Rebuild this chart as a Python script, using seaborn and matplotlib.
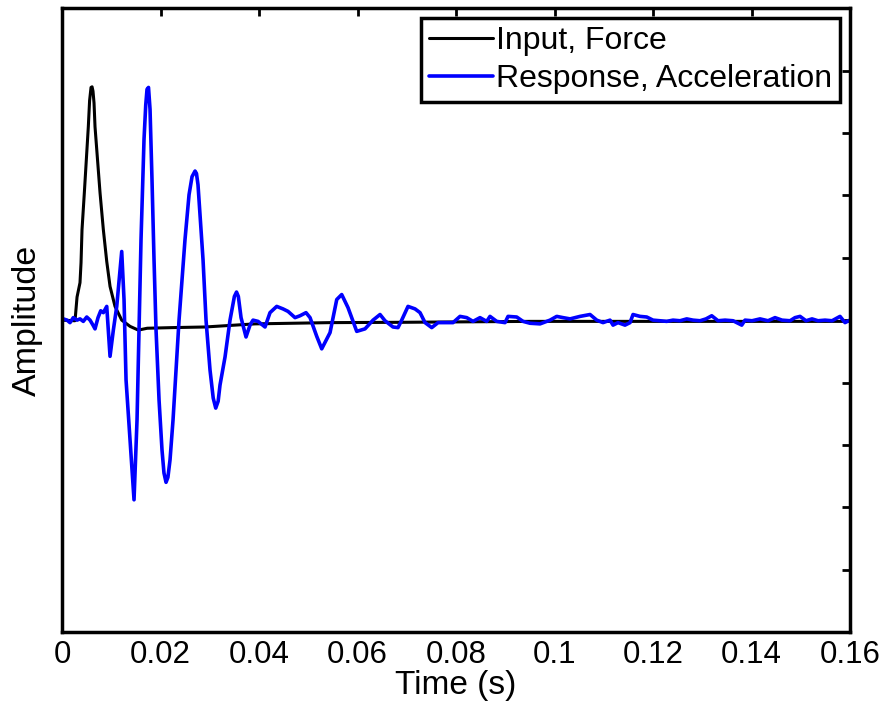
import numpy as np
import pandas as pd
import matplotlib
matplotlib.use("Agg")
import matplotlib.pyplot as plt
import seaborn as sns

# values (time in ms, amplitude in axis units)
force_t_ms = [0, 2.64, 3.05, 3.65, 3.86, 4.06, 4.53, 5.34, 5.6, 5.89, 6.1, 6.29, 6.5,
              6.70, 7.72, 8.39, 9.08, 9.75, 10.76, 12.12, 13.81, 15.49, 17.30, 22.34,
              29.04, 39.19, 54.42, 68.63, 95.03, 160.0]
force_amp = [0.0, -0.01, 0.37, 0.60, 0.92, 1.45, 2.04, 3.10, 3.52, 3.73, 3.74, 3.67, 3.48,
             3.10, 2.04, 1.45, 0.94, 0.54, 0.22, 0.0, -0.10, -0.16, -0.13, -0.12,
             -0.11, -0.06, -0.04, -0.035, -0.02, -0.02]

accel_t_ms = [0, 0.26, 1.02, 1.62, 2.29, 3.05, 3.65, 4.32, 5.02, 5.69, 6.29, 6.70,
              7.31, 7.86, 8.39, 9.08, 9.75, 10.42, 11.11, 12.12, 12.59, 13.0, 13.81,
              14.62, 15.23, 15.63, 16.04, 16.65, 17.0, 17.26, 17.56, 17.87, 18.27, 18.68,
              19.09, 19.70, 20.30, 20.7, 21.12, 21.5, 21.93, 22.54, 23.15, 23.76, 24.37,
              24.97, 25.79, 26.4, 27.01, 27.3, 27.61, 28.63, 29.24, 30.05, 30.7, 31.21,
              31.7, 32.08, 33.10, 34.11, 35.0, 35.43, 35.8, 36.35, 37.36, 38.17, 38.78,
              39.80, 41.22, 42.23, 43.59, 44.87, 45.89, 47.31, 48.32, 49.54, 50.36,
              51.72, 52.73, 54.42, 55.78, 56.79, 58.07, 59.84, 61.52, 63.15, 64.57,
              65.58, 67.21, 68.22, 68.97, 70.25, 71.68, 72.69, 73.71, 75.07, 76.35,
              77.77, 79.39, 80.81, 82.17, 83.45, 84.87, 86.23, 86.90, 88.26, 89.95,
              90.56, 92.32, 93.60, 95.03, 97.06, 99.09, 100.45, 101.73, 103.15, 105.18,
              107.21, 108.57, 109.85, 111.27, 111.88, 112.89, 114.31, 115.33, 115.94,
              117.36, 118.72, 120.0, 121.42, 122.78, 124.06, 125.48, 126.84, 128.12,
              129.54, 130.76, 131.92, 133.20, 134.62, 136.24, 138.01, 138.68, 140.10,
              141.73, 143.35, 144.77, 146.19, 147.82, 148.83, 149.85, 151.07, 152.28,
              153.50, 154.92, 156.35, 157.97, 158.98, 160.0]
accel_amp = [0.0, 0.02, 0.0, -0.04, 0.04, 0.0, 0.02, -0.02, 0.05, 0.0, -0.08, -0.14,
             0.04, 0.15, 0.12, 0.22, -0.58, -0.16, 0.22, 1.10, 0.33, -0.96, -1.92,
             -2.88, -1.60, -0.16, 1.29, 2.90, 3.45, 3.70, 3.73, 3.38, 2.25, 0.97,
             -0.16, -1.28, -2.08, -2.45, -2.60, -2.52, -2.24, -1.60, -0.80, 0.0, 0.65,
             1.29, 2.01, 2.30, 2.39, 2.35, 2.17, 0.97, 0.0, -0.80, -1.25, -1.41,
             -1.30, -1.04, -0.59, 0.0, 0.38, 0.45, 0.38, 0.04, -0.27, -0.08, 0.0,
             -0.02, -0.11, 0.12, 0.22, 0.18, 0.14, 0.04, 0.07, 0.12, 0.04,
             -0.26, -0.46, -0.20, 0.33, 0.41, 0.20, -0.18, -0.14, 0.0, 0.09,
             -0.01, -0.11, -0.12, 0.0, 0.22, 0.18, 0.12, -0.04, -0.12, -0.04,
             -0.04, -0.04, 0.06, 0.04, -0.02, 0.04, -0.02, 0.06, -0.02, -0.04,
             0.06, 0.05, -0.02, -0.05, -0.06, 0.0, 0.06, 0.04, 0.02, 0.06,
             0.09, 0.0, -0.04, 0.0, -0.08, -0.04, -0.08, -0.04, 0.09,
             0.06, 0.05, 0.0, -0.01, -0.02, 0.0, -0.01, 0.02, 0.0,
             -0.01, 0.02, 0.07, -0.01, 0.0, -0.01, -0.08, 0.0, -0.01,
             0.02, -0.01, 0.04, 0.0, -0.01, 0.04, 0.06, -0.01, 0.02,
             -0.01, 0.0, -0.01, 0.06, -0.04, 0.0]

x_ticks = [0, 0.02, 0.04, 0.06, 0.08, 0.1, 0.12, 0.14, 0.16]
x_tick_labels = ["0", "0.02", "0.04", "0.06", "0.08", "0.1", "0.12", "0.14", "0.16"]
y_ticks = list(range(-5, 6))

force = pd.DataFrame({"t": np.array(force_t_ms) / 1000, "amp": force_amp})
accel = pd.DataFrame({"t": np.array(accel_t_ms) / 1000, "amp": accel_amp})

sns.set_style("white")
plt.rcParams["font.family"] = ["Liberation Sans", "DejaVu Sans"]
plt.rcParams["text.color"] = "black"
plt.rcParams["axes.labelcolor"] = "black"
plt.rcParams["xtick.color"] = "black"
plt.rcParams["ytick.color"] = "black"

fig = plt.figure(figsize=(8.86, 7.07), dpi=100)
ax = fig.add_axes([0.070, 0.106, 0.8894, 0.8824])

sns.lineplot(data=force, x="t", y="amp", color="black", lw=2.2, sort=False,
             estimator=None, label="Input, Force", ax=ax)
sns.lineplot(data=accel, x="t", y="amp", color="blue", lw=2.6, sort=False,
             estimator=None, label="Response, Acceleration", ax=ax)

ax.set_xlim(0, 0.16)
ax.set_ylim(-5, 5)
ax.set_xticks(x_ticks)
ax.set_xticklabels(x_tick_labels)
ax.set_yticks(y_ticks)
ax.set_yticklabels([])
ax.tick_params(direction="in", length=6, width=2, top=True, right=True,
               labelsize=22.5, pad=6, colors="black")
for s in ax.spines.values():
    s.set_linewidth(2.5)
    s.set_color("black")
ax.set_xlabel("Time (s)", fontsize=24, labelpad=0)
ax.set_ylabel("Amplitude", fontsize=24.5, labelpad=8)

leg = ax.legend(loc="upper right", fontsize=23, frameon=True, fancybox=False,
                handlelength=2.0, handletextpad=0.1, borderpad=0.25,
                borderaxespad=0.3, labelspacing=0.25)
leg.get_frame().set_edgecolor("black")
leg.get_frame().set_linewidth(2.5)
leg.get_frame().set_alpha(1)
for txt in leg.get_texts():
    txt.set_color("black")

fig.savefig("out.png", dpi=100)
